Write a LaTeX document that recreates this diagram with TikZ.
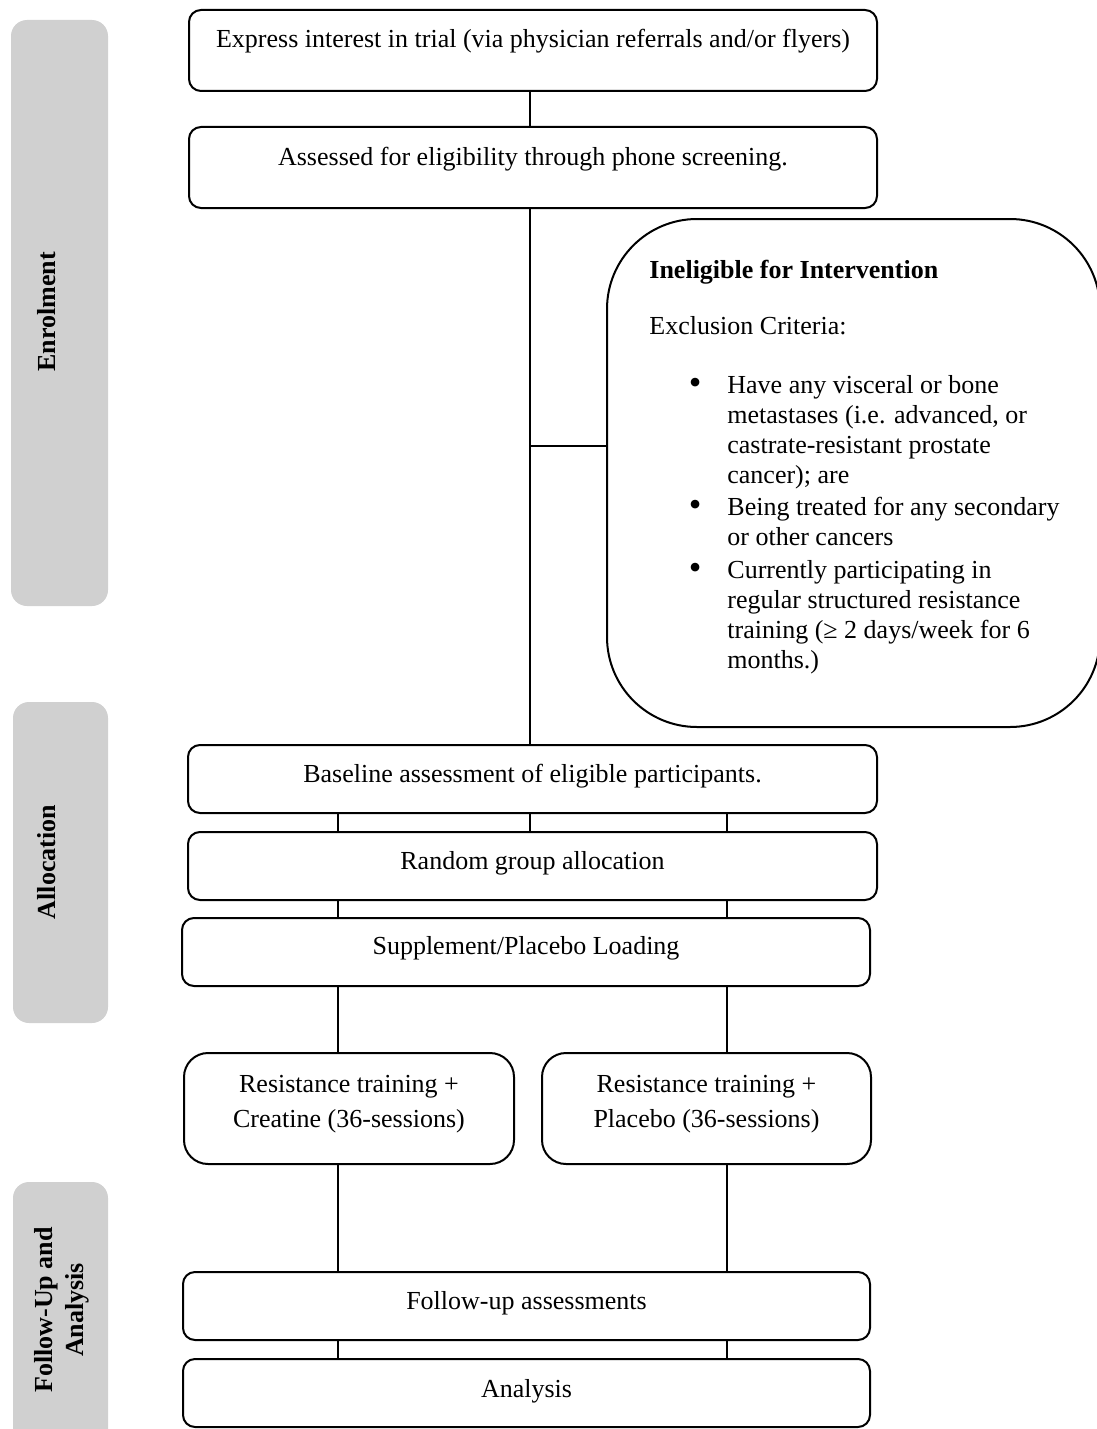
\documentclass[tikz,border=0pt]{standalone}
\usepackage{fontspec}
\setmainfont{Liberation Serif}
\newcommand{\bigbul}{\llap{\raisebox{-0.5pt}{\fontsize{18}{15}\selectfont\textbullet}\hspace{13pt}}}
\begin{document}
\begin{tikzpicture}[x=0.5pt,y=-0.5pt,
  box/.style={draw=black, line width=1pt, fill=white, rounded corners=6pt, inner sep=0pt},
  bigbox/.style={box, rounded corners=12pt},
  txt/.style={anchor=base, inner sep=0pt, font=\fontsize{13}{15}\selectfont},
  side/.style={fill=sidegray, rounded corners=8pt},
  sidelbl/.style={rotate=90, inner sep=0pt, align=center, font=\fontsize{13}{15.5}\selectfont\bfseries},
  conn/.style={line width=0.75pt}]
\definecolor{sidegray}{RGB}{208,208,208}
\useasboundingbox (0,0) rectangle (1097,1429);
\clip (0,0) rectangle (1097,1429);

% side bars
\fill[side] (11,20) rectangle (108,606);
\fill[side] (13,702) rectangle (108,1023);
\fill[side] (13,1182) rectangle (108,1460);
\node[sidelbl] (s1) at (47,312) {Enrolment};
\node[sidelbl] (s2) at (47,862) {Allocation};
\node[sidelbl] (s3) at (62,1310) {Follow-Up and\\Analysis};

% column coordinates
\coordinate (cL) at (338,0);
\coordinate (cM) at (530,0);
\coordinate (cR) at (727,0);

% boxes
\node[box, minimum width=344pt, minimum height=40.5pt] (b1) at (533,50.5) {};
\node[txt] (t1) at (533,48) {Express interest in trial (via physician referrals and/or flyers)};
\node[box, minimum width=344pt, minimum height=40.5pt] (b2) at (533,167.5) {};
\node[txt] (t2) at (533,165) {Assessed for eligibility through phone screening.};

\node[box, rounded corners=45pt, minimum width=246.5pt, minimum height=254pt] (inel) at (853.5,473) {};
\node[txt, anchor=base west, font=\fontsize{13}{15}\selectfont\bfseries] (it) at (649,278) {Ineligible for Intervention};
\node[txt, anchor=base west] (ie) at (649,334) {Exclusion Criteria:};
\node[txt, anchor=base west] (il) at (727,393) {\renewcommand\arraystretch{1}%
\begin{tabular}[t]{@{}l@{}}
\bigbul Have any visceral or bone\\
metastases (i.e. advanced, or\\
castrate-resistant prostate\\
cancer); are\\[1pt]
\bigbul Being treated for any secondary\\
or other cancers\\[1.5pt]
\bigbul Currently participating in\\
regular structured resistance\\
training (≥ 2 days/week for 6\\
months.)
\end{tabular}};

\node[box, minimum width=344.5pt, minimum height=34pt] (base) at (532.5,779) {};
\node[txt] (t3) at (532.5,782) {Baseline assessment of eligible participants.};
\node[box, minimum width=344.5pt, minimum height=34pt] (rand) at (532.5,866) {};
\node[txt] (t4) at (532.5,869) {Random group allocation};
\node[box, minimum width=344pt, minimum height=34pt] (supp) at (526,952) {};
\node[txt] (t5) at (526,954) {Supplement/Placebo Loading};

\node[bigbox, minimum width=165pt, minimum height=55.5pt] (rt1) at (349,1108.5) {};
\node[txt] (t6) at (349,1092) {Resistance training +};
\node[txt] (t6b) at (349,1127) {Creatine (36-sessions)};
\node[bigbox, minimum width=164.5pt, minimum height=55.5pt] (rt2) at (706.5,1108.5) {};
\node[txt] (t7) at (706.5,1092) {Resistance training +};
\node[txt] (t7b) at (706.5,1127) {Placebo (36-sessions)};

\node[box, minimum width=343.5pt, minimum height=34pt] (fu) at (526.5,1306) {};
\node[txt] (t8) at (526.5,1309) {Follow-up assessments};
\node[box, minimum width=343.5pt, minimum height=34pt] (an) at (526.5,1393) {};
\node[txt] (t9) at (526.5,1397) {Analysis};

% connectors
\draw[conn] (b1.south -| cM) -- (b2.north -| cM);
\draw[conn] (b2.south -| cM) -- (base.north -| cM);
\draw[conn] ([yshift=13.5pt]inel.west -| cM) -- ([yshift=13.5pt]inel.west);
\foreach \c in {cL,cM,cR} \draw[conn] (base.south -| \c) -- (rand.north -| \c);
\foreach \c in {cL,cR} \draw[conn] (rand.south -| \c) -- (supp.north -| \c);
\draw[conn] (supp.south -| cL) -- (rt1.north -| cL);
\draw[conn] (supp.south -| cR) -- (rt2.north -| cR);
\draw[conn] (rt1.south -| cL) -- (fu.north -| cL);
\draw[conn] (rt2.south -| cR) -- (fu.north -| cR);
\foreach \c in {cL,cR} \draw[conn] (fu.south -| \c) -- (an.north -| \c);
\end{tikzpicture}
\end{document}
